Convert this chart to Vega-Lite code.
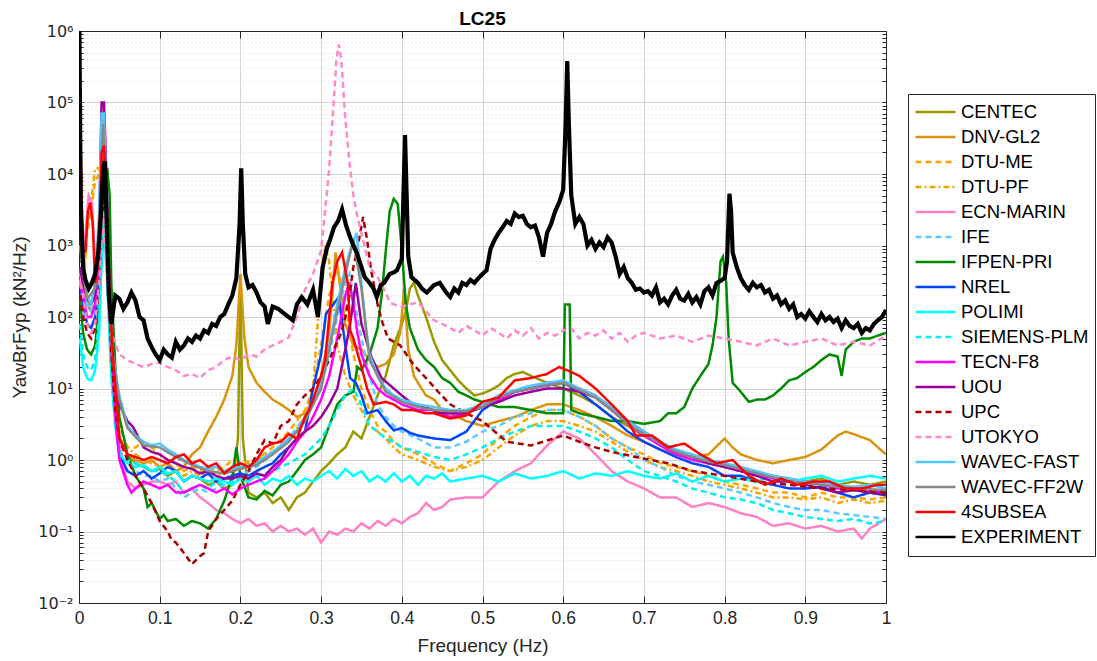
{
"$schema": "https://vega.github.io/schema/vega-lite/v6.json",
"width": 807, "height": 572,
"autosize": {"type": "none"},
"padding": {"left": 79, "top": 31, "right": 211, "bottom": 58},
"background": "white",
"title": {"text": "LC25", "fontSize": 19, "fontWeight": "bold", "font": "Liberation Sans", "color": "black", "offset": -6, "anchor": "middle"},
"config": {
  "view": {"stroke": null},
  "axis": {"labelFont": "Liberation Sans", "titleFont": "Liberation Sans", "labelColor": "#262626", "titleColor": "#262626", "domainColor": "#262626", "tickColor": "#262626", "titleFontWeight": "normal"},
  "legend": {"labelFont": "Liberation Sans", "labelFontSize": 18.5, "labelColor": "black", "symbolType": "stroke", "symbolSize": 1600, "symbolStrokeWidth": 2.5, "clipHeight": 24.2, "rowPadding": 0, "labelOffset": 4, "padding": 6, "strokeColor": "#262626", "fillColor": "white", "labelLimit": 300, "cornerRadius": 0}
},
"data": {"values": [
{"s":"CENTEC","f":0.001,"v":200000},{"s":"CENTEC","f":0.005,"v":200},{"s":"CENTEC","f":0.01,"v":150},{"s":"CENTEC","f":0.015,"v":120},{"s":"CENTEC","f":0.02,"v":150},{"s":"CENTEC","f":0.025,"v":400},{"s":"CENTEC","f":0.03,"v":8000},{"s":"CENTEC","f":0.035,"v":2000},{"s":"CENTEC","f":0.04,"v":30},{"s":"CENTEC","f":0.045,"v":5},{"s":"CENTEC","f":0.05,"v":2},{"s":"CENTEC","f":0.06,"v":1.2},{"s":"CENTEC","f":0.07,"v":0.9},{"s":"CENTEC","f":0.08,"v":0.8},{"s":"CENTEC","f":0.09,"v":0.7},{"s":"CENTEC","f":0.1,"v":0.75},{"s":"CENTEC","f":0.11,"v":0.6},{"s":"CENTEC","f":0.12,"v":0.7},{"s":"CENTEC","f":0.13,"v":0.5},{"s":"CENTEC","f":0.14,"v":0.6},{"s":"CENTEC","f":0.15,"v":0.55},{"s":"CENTEC","f":0.16,"v":0.45},{"s":"CENTEC","f":0.17,"v":0.5},{"s":"CENTEC","f":0.18,"v":0.4},{"s":"CENTEC","f":0.19,"v":0.45},{"s":"CENTEC","f":0.197,"v":2},{"s":"CENTEC","f":0.2,"v":300},{"s":"CENTEC","f":0.203,"v":2},{"s":"CENTEC","f":0.21,"v":0.35},{"s":"CENTEC","f":0.22,"v":0.3},{"s":"CENTEC","f":0.23,"v":0.35},{"s":"CENTEC","f":0.24,"v":0.25},{"s":"CENTEC","f":0.25,"v":0.3},{"s":"CENTEC","f":0.26,"v":0.2},{"s":"CENTEC","f":0.27,"v":0.3},{"s":"CENTEC","f":0.28,"v":0.35},{"s":"CENTEC","f":0.29,"v":0.5},{"s":"CENTEC","f":0.3,"v":0.7},{"s":"CENTEC","f":0.31,"v":0.9},{"s":"CENTEC","f":0.32,"v":1.2},{"s":"CENTEC","f":0.33,"v":1.5},{"s":"CENTEC","f":0.34,"v":2.5},{"s":"CENTEC","f":0.35,"v":2},{"s":"CENTEC","f":0.36,"v":4},{"s":"CENTEC","f":0.37,"v":8},{"s":"CENTEC","f":0.38,"v":15},{"s":"CENTEC","f":0.39,"v":40},{"s":"CENTEC","f":0.4,"v":80},{"s":"CENTEC","f":0.405,"v":120},{"s":"CENTEC","f":0.41,"v":250},{"s":"CENTEC","f":0.415,"v":300},{"s":"CENTEC","f":0.42,"v":200},{"s":"CENTEC","f":0.43,"v":100},{"s":"CENTEC","f":0.44,"v":45},{"s":"CENTEC","f":0.45,"v":25},{"s":"CENTEC","f":0.46,"v":18},{"s":"CENTEC","f":0.47,"v":13},{"s":"CENTEC","f":0.48,"v":10},{"s":"CENTEC","f":0.49,"v":8},{"s":"CENTEC","f":0.5,"v":8.5},{"s":"CENTEC","f":0.51,"v":9.5},{"s":"CENTEC","f":0.52,"v":11},{"s":"CENTEC","f":0.53,"v":14},{"s":"CENTEC","f":0.54,"v":16},{"s":"CENTEC","f":0.55,"v":17},{"s":"CENTEC","f":0.56,"v":15},{"s":"CENTEC","f":0.58,"v":12},{"s":"CENTEC","f":0.6,"v":10},{"s":"CENTEC","f":0.62,"v":8},{"s":"CENTEC","f":0.64,"v":6},{"s":"CENTEC","f":0.66,"v":4},{"s":"CENTEC","f":0.68,"v":3},{"s":"CENTEC","f":0.7,"v":2.2},{"s":"CENTEC","f":0.72,"v":1.8},{"s":"CENTEC","f":0.74,"v":1.3},{"s":"CENTEC","f":0.76,"v":1.1},{"s":"CENTEC","f":0.78,"v":0.9},{"s":"CENTEC","f":0.8,"v":0.8},{"s":"CENTEC","f":0.82,"v":0.7},{"s":"CENTEC","f":0.84,"v":0.65},{"s":"CENTEC","f":0.86,"v":0.6},{"s":"CENTEC","f":0.88,"v":0.55},{"s":"CENTEC","f":0.9,"v":0.5},{"s":"CENTEC","f":0.92,"v":0.55},{"s":"CENTEC","f":0.94,"v":0.45},{"s":"CENTEC","f":0.96,"v":0.5},{"s":"CENTEC","f":0.98,"v":0.45},{"s":"CENTEC","f":1,"v":0.5},
{"s":"DNV-GL2","f":0.001,"v":500},{"s":"DNV-GL2","f":0.005,"v":200},{"s":"DNV-GL2","f":0.01,"v":150},{"s":"DNV-GL2","f":0.015,"v":150},{"s":"DNV-GL2","f":0.02,"v":300},{"s":"DNV-GL2","f":0.025,"v":1500},{"s":"DNV-GL2","f":0.03,"v":8000},{"s":"DNV-GL2","f":0.035,"v":1500},{"s":"DNV-GL2","f":0.04,"v":40},{"s":"DNV-GL2","f":0.045,"v":6},{"s":"DNV-GL2","f":0.05,"v":2},{"s":"DNV-GL2","f":0.06,"v":1.2},{"s":"DNV-GL2","f":0.07,"v":1},{"s":"DNV-GL2","f":0.08,"v":0.9},{"s":"DNV-GL2","f":0.09,"v":1},{"s":"DNV-GL2","f":0.1,"v":0.8},{"s":"DNV-GL2","f":0.11,"v":0.9},{"s":"DNV-GL2","f":0.12,"v":0.7},{"s":"DNV-GL2","f":0.13,"v":0.8},{"s":"DNV-GL2","f":0.14,"v":1.2},{"s":"DNV-GL2","f":0.15,"v":1.5},{"s":"DNV-GL2","f":0.16,"v":2.5},{"s":"DNV-GL2","f":0.17,"v":4},{"s":"DNV-GL2","f":0.18,"v":7},{"s":"DNV-GL2","f":0.19,"v":15},{"s":"DNV-GL2","f":0.195,"v":40},{"s":"DNV-GL2","f":0.2,"v":400},{"s":"DNV-GL2","f":0.205,"v":50},{"s":"DNV-GL2","f":0.21,"v":20},{"s":"DNV-GL2","f":0.22,"v":12},{"s":"DNV-GL2","f":0.23,"v":9},{"s":"DNV-GL2","f":0.24,"v":7},{"s":"DNV-GL2","f":0.25,"v":6},{"s":"DNV-GL2","f":0.26,"v":5},{"s":"DNV-GL2","f":0.27,"v":4},{"s":"DNV-GL2","f":0.28,"v":4.5},{"s":"DNV-GL2","f":0.29,"v":6},{"s":"DNV-GL2","f":0.3,"v":15},{"s":"DNV-GL2","f":0.31,"v":60},{"s":"DNV-GL2","f":0.318,"v":800},{"s":"DNV-GL2","f":0.325,"v":200},{"s":"DNV-GL2","f":0.33,"v":80},{"s":"DNV-GL2","f":0.34,"v":40},{"s":"DNV-GL2","f":0.35,"v":35},{"s":"DNV-GL2","f":0.36,"v":25},{"s":"DNV-GL2","f":0.37,"v":20},{"s":"DNV-GL2","f":0.38,"v":22},{"s":"DNV-GL2","f":0.39,"v":30},{"s":"DNV-GL2","f":0.398,"v":60},{"s":"DNV-GL2","f":0.403,"v":250},{"s":"DNV-GL2","f":0.408,"v":35},{"s":"DNV-GL2","f":0.415,"v":15},{"s":"DNV-GL2","f":0.42,"v":12},{"s":"DNV-GL2","f":0.43,"v":8},{"s":"DNV-GL2","f":0.44,"v":7},{"s":"DNV-GL2","f":0.45,"v":5},{"s":"DNV-GL2","f":0.46,"v":4.5},{"s":"DNV-GL2","f":0.48,"v":3.5},{"s":"DNV-GL2","f":0.5,"v":3},{"s":"DNV-GL2","f":0.52,"v":3.5},{"s":"DNV-GL2","f":0.54,"v":4},{"s":"DNV-GL2","f":0.56,"v":5},{"s":"DNV-GL2","f":0.58,"v":6},{"s":"DNV-GL2","f":0.6,"v":6},{"s":"DNV-GL2","f":0.62,"v":5},{"s":"DNV-GL2","f":0.64,"v":4},{"s":"DNV-GL2","f":0.66,"v":3},{"s":"DNV-GL2","f":0.68,"v":2.2},{"s":"DNV-GL2","f":0.7,"v":1.8},{"s":"DNV-GL2","f":0.72,"v":1.4},{"s":"DNV-GL2","f":0.74,"v":1.2},{"s":"DNV-GL2","f":0.76,"v":1.1},{"s":"DNV-GL2","f":0.78,"v":1.2},{"s":"DNV-GL2","f":0.8,"v":2},{"s":"DNV-GL2","f":0.81,"v":1.5},{"s":"DNV-GL2","f":0.82,"v":1.2},{"s":"DNV-GL2","f":0.84,"v":1},{"s":"DNV-GL2","f":0.86,"v":0.9},{"s":"DNV-GL2","f":0.88,"v":1},{"s":"DNV-GL2","f":0.9,"v":1.1},{"s":"DNV-GL2","f":0.92,"v":1.4},{"s":"DNV-GL2","f":0.94,"v":2.2},{"s":"DNV-GL2","f":0.95,"v":2.5},{"s":"DNV-GL2","f":0.96,"v":2.3},{"s":"DNV-GL2","f":0.98,"v":1.9},{"s":"DNV-GL2","f":0.99,"v":1.5},{"s":"DNV-GL2","f":1,"v":1.2},
{"s":"DTU-ME","f":0.001,"v":300},{"s":"DTU-ME","f":0.005,"v":200},{"s":"DTU-ME","f":0.01,"v":1500},{"s":"DTU-ME","f":0.015,"v":3000},{"s":"DTU-ME","f":0.02,"v":8000},{"s":"DTU-ME","f":0.025,"v":10000},{"s":"DTU-ME","f":0.03,"v":5000},{"s":"DTU-ME","f":0.035,"v":500},{"s":"DTU-ME","f":0.04,"v":20},{"s":"DTU-ME","f":0.045,"v":5},{"s":"DTU-ME","f":0.05,"v":2},{"s":"DTU-ME","f":0.06,"v":1.5},{"s":"DTU-ME","f":0.07,"v":1.5},{"s":"DTU-ME","f":0.08,"v":1.8},{"s":"DTU-ME","f":0.09,"v":1.5},{"s":"DTU-ME","f":0.1,"v":1.2},{"s":"DTU-ME","f":0.11,"v":1},{"s":"DTU-ME","f":0.12,"v":0.9},{"s":"DTU-ME","f":0.13,"v":0.7},{"s":"DTU-ME","f":0.14,"v":0.8},{"s":"DTU-ME","f":0.15,"v":0.7},{"s":"DTU-ME","f":0.16,"v":0.8},{"s":"DTU-ME","f":0.17,"v":0.7},{"s":"DTU-ME","f":0.18,"v":0.8},{"s":"DTU-ME","f":0.19,"v":1},{"s":"DTU-ME","f":0.2,"v":0.9},{"s":"DTU-ME","f":0.22,"v":1},{"s":"DTU-ME","f":0.24,"v":1.5},{"s":"DTU-ME","f":0.26,"v":2.5},{"s":"DTU-ME","f":0.28,"v":5},{"s":"DTU-ME","f":0.29,"v":10},{"s":"DTU-ME","f":0.3,"v":40},{"s":"DTU-ME","f":0.31,"v":200},{"s":"DTU-ME","f":0.32,"v":500},{"s":"DTU-ME","f":0.33,"v":150},{"s":"DTU-ME","f":0.34,"v":30},{"s":"DTU-ME","f":0.35,"v":10},{"s":"DTU-ME","f":0.36,"v":5},{"s":"DTU-ME","f":0.37,"v":3},{"s":"DTU-ME","f":0.38,"v":2.5},{"s":"DTU-ME","f":0.39,"v":1.8},{"s":"DTU-ME","f":0.4,"v":1.5},{"s":"DTU-ME","f":0.42,"v":1.2},{"s":"DTU-ME","f":0.44,"v":0.9},{"s":"DTU-ME","f":0.46,"v":0.7},{"s":"DTU-ME","f":0.48,"v":0.9},{"s":"DTU-ME","f":0.5,"v":1.2},{"s":"DTU-ME","f":0.52,"v":2},{"s":"DTU-ME","f":0.54,"v":3},{"s":"DTU-ME","f":0.56,"v":4},{"s":"DTU-ME","f":0.58,"v":5},{"s":"DTU-ME","f":0.6,"v":5},{"s":"DTU-ME","f":0.62,"v":4},{"s":"DTU-ME","f":0.64,"v":3},{"s":"DTU-ME","f":0.66,"v":2},{"s":"DTU-ME","f":0.68,"v":1.5},{"s":"DTU-ME","f":0.7,"v":1.2},{"s":"DTU-ME","f":0.72,"v":0.9},{"s":"DTU-ME","f":0.74,"v":0.8},{"s":"DTU-ME","f":0.76,"v":0.7},{"s":"DTU-ME","f":0.78,"v":0.6},{"s":"DTU-ME","f":0.8,"v":0.5},{"s":"DTU-ME","f":0.82,"v":0.45},{"s":"DTU-ME","f":0.84,"v":0.4},{"s":"DTU-ME","f":0.86,"v":0.35},{"s":"DTU-ME","f":0.88,"v":0.35},{"s":"DTU-ME","f":0.9,"v":0.3},{"s":"DTU-ME","f":0.92,"v":0.35},{"s":"DTU-ME","f":0.94,"v":0.3},{"s":"DTU-ME","f":0.96,"v":0.3},{"s":"DTU-ME","f":0.98,"v":0.28},{"s":"DTU-ME","f":1,"v":0.3},
{"s":"DTU-PF","f":0.001,"v":400},{"s":"DTU-PF","f":0.005,"v":300},{"s":"DTU-PF","f":0.01,"v":2000},{"s":"DTU-PF","f":0.015,"v":4000},{"s":"DTU-PF","f":0.02,"v":12000},{"s":"DTU-PF","f":0.025,"v":12000},{"s":"DTU-PF","f":0.03,"v":6000},{"s":"DTU-PF","f":0.035,"v":1000},{"s":"DTU-PF","f":0.04,"v":50},{"s":"DTU-PF","f":0.045,"v":8},{"s":"DTU-PF","f":0.05,"v":3},{"s":"DTU-PF","f":0.06,"v":1.5},{"s":"DTU-PF","f":0.07,"v":1.2},{"s":"DTU-PF","f":0.08,"v":1},{"s":"DTU-PF","f":0.09,"v":0.9},{"s":"DTU-PF","f":0.1,"v":0.8},{"s":"DTU-PF","f":0.11,"v":0.9},{"s":"DTU-PF","f":0.12,"v":0.7},{"s":"DTU-PF","f":0.13,"v":0.6},{"s":"DTU-PF","f":0.14,"v":0.7},{"s":"DTU-PF","f":0.15,"v":0.6},{"s":"DTU-PF","f":0.16,"v":0.7},{"s":"DTU-PF","f":0.17,"v":0.6},{"s":"DTU-PF","f":0.18,"v":0.7},{"s":"DTU-PF","f":0.19,"v":0.8},{"s":"DTU-PF","f":0.2,"v":0.8},{"s":"DTU-PF","f":0.22,"v":1},{"s":"DTU-PF","f":0.24,"v":1.3},{"s":"DTU-PF","f":0.26,"v":2},{"s":"DTU-PF","f":0.28,"v":4},{"s":"DTU-PF","f":0.29,"v":10},{"s":"DTU-PF","f":0.295,"v":60},{"s":"DTU-PF","f":0.3,"v":400},{"s":"DTU-PF","f":0.305,"v":1000},{"s":"DTU-PF","f":0.31,"v":600},{"s":"DTU-PF","f":0.315,"v":150},{"s":"DTU-PF","f":0.32,"v":40},{"s":"DTU-PF","f":0.33,"v":15},{"s":"DTU-PF","f":0.34,"v":8},{"s":"DTU-PF","f":0.35,"v":5},{"s":"DTU-PF","f":0.36,"v":3},{"s":"DTU-PF","f":0.37,"v":2.5},{"s":"DTU-PF","f":0.38,"v":2},{"s":"DTU-PF","f":0.39,"v":1.5},{"s":"DTU-PF","f":0.4,"v":1.2},{"s":"DTU-PF","f":0.42,"v":1},{"s":"DTU-PF","f":0.44,"v":0.8},{"s":"DTU-PF","f":0.46,"v":0.7},{"s":"DTU-PF","f":0.48,"v":0.8},{"s":"DTU-PF","f":0.5,"v":1},{"s":"DTU-PF","f":0.52,"v":1.5},{"s":"DTU-PF","f":0.54,"v":2.2},{"s":"DTU-PF","f":0.56,"v":3},{"s":"DTU-PF","f":0.58,"v":3.5},{"s":"DTU-PF","f":0.6,"v":3.5},{"s":"DTU-PF","f":0.62,"v":3},{"s":"DTU-PF","f":0.64,"v":2.5},{"s":"DTU-PF","f":0.66,"v":1.8},{"s":"DTU-PF","f":0.68,"v":1.3},{"s":"DTU-PF","f":0.7,"v":1},{"s":"DTU-PF","f":0.72,"v":0.8},{"s":"DTU-PF","f":0.74,"v":0.7},{"s":"DTU-PF","f":0.76,"v":0.6},{"s":"DTU-PF","f":0.78,"v":0.5},{"s":"DTU-PF","f":0.8,"v":0.45},{"s":"DTU-PF","f":0.82,"v":0.4},{"s":"DTU-PF","f":0.84,"v":0.35},{"s":"DTU-PF","f":0.86,"v":0.3},{"s":"DTU-PF","f":0.88,"v":0.3},{"s":"DTU-PF","f":0.9,"v":0.28},{"s":"DTU-PF","f":0.92,"v":0.3},{"s":"DTU-PF","f":0.94,"v":0.25},{"s":"DTU-PF","f":0.96,"v":0.28},{"s":"DTU-PF","f":0.98,"v":0.25},{"s":"DTU-PF","f":1,"v":0.27},
{"s":"ECN-MARIN","f":0.001,"v":300},{"s":"ECN-MARIN","f":0.004,"v":400},{"s":"ECN-MARIN","f":0.008,"v":1500},{"s":"ECN-MARIN","f":0.012,"v":5000},{"s":"ECN-MARIN","f":0.016,"v":4000},{"s":"ECN-MARIN","f":0.02,"v":600},{"s":"ECN-MARIN","f":0.025,"v":1000},{"s":"ECN-MARIN","f":0.03,"v":30000},{"s":"ECN-MARIN","f":0.035,"v":2000},{"s":"ECN-MARIN","f":0.04,"v":60},{"s":"ECN-MARIN","f":0.045,"v":8},{"s":"ECN-MARIN","f":0.05,"v":2},{"s":"ECN-MARIN","f":0.055,"v":0.8},{"s":"ECN-MARIN","f":0.06,"v":0.5},{"s":"ECN-MARIN","f":0.07,"v":0.4},{"s":"ECN-MARIN","f":0.08,"v":0.45},{"s":"ECN-MARIN","f":0.09,"v":0.5},{"s":"ECN-MARIN","f":0.1,"v":0.5},{"s":"ECN-MARIN","f":0.11,"v":0.45},{"s":"ECN-MARIN","f":0.12,"v":0.5},{"s":"ECN-MARIN","f":0.13,"v":0.35},{"s":"ECN-MARIN","f":0.14,"v":0.4},{"s":"ECN-MARIN","f":0.15,"v":0.3},{"s":"ECN-MARIN","f":0.16,"v":0.25},{"s":"ECN-MARIN","f":0.17,"v":0.2},{"s":"ECN-MARIN","f":0.18,"v":0.18},{"s":"ECN-MARIN","f":0.19,"v":0.15},{"s":"ECN-MARIN","f":0.2,"v":0.13},{"s":"ECN-MARIN","f":0.21,"v":0.15},{"s":"ECN-MARIN","f":0.22,"v":0.12},{"s":"ECN-MARIN","f":0.23,"v":0.13},{"s":"ECN-MARIN","f":0.24,"v":0.1},{"s":"ECN-MARIN","f":0.25,"v":0.12},{"s":"ECN-MARIN","f":0.26,"v":0.1},{"s":"ECN-MARIN","f":0.27,"v":0.11},{"s":"ECN-MARIN","f":0.28,"v":0.09},{"s":"ECN-MARIN","f":0.29,"v":0.11},{"s":"ECN-MARIN","f":0.3,"v":0.07},{"s":"ECN-MARIN","f":0.31,"v":0.1},{"s":"ECN-MARIN","f":0.32,"v":0.09},{"s":"ECN-MARIN","f":0.33,"v":0.11},{"s":"ECN-MARIN","f":0.34,"v":0.1},{"s":"ECN-MARIN","f":0.35,"v":0.13},{"s":"ECN-MARIN","f":0.36,"v":0.11},{"s":"ECN-MARIN","f":0.37,"v":0.14},{"s":"ECN-MARIN","f":0.38,"v":0.12},{"s":"ECN-MARIN","f":0.39,"v":0.15},{"s":"ECN-MARIN","f":0.4,"v":0.13},{"s":"ECN-MARIN","f":0.41,"v":0.16},{"s":"ECN-MARIN","f":0.42,"v":0.18},{"s":"ECN-MARIN","f":0.43,"v":0.25},{"s":"ECN-MARIN","f":0.44,"v":0.2},{"s":"ECN-MARIN","f":0.45,"v":0.22},{"s":"ECN-MARIN","f":0.46,"v":0.28},{"s":"ECN-MARIN","f":0.48,"v":0.3},{"s":"ECN-MARIN","f":0.5,"v":0.3},{"s":"ECN-MARIN","f":0.52,"v":0.5},{"s":"ECN-MARIN","f":0.54,"v":0.7},{"s":"ECN-MARIN","f":0.56,"v":0.9},{"s":"ECN-MARIN","f":0.58,"v":1.6},{"s":"ECN-MARIN","f":0.6,"v":2.5},{"s":"ECN-MARIN","f":0.62,"v":2},{"s":"ECN-MARIN","f":0.64,"v":1.2},{"s":"ECN-MARIN","f":0.66,"v":0.7},{"s":"ECN-MARIN","f":0.68,"v":0.5},{"s":"ECN-MARIN","f":0.7,"v":0.4},{"s":"ECN-MARIN","f":0.72,"v":0.3},{"s":"ECN-MARIN","f":0.74,"v":0.3},{"s":"ECN-MARIN","f":0.76,"v":0.22},{"s":"ECN-MARIN","f":0.78,"v":0.25},{"s":"ECN-MARIN","f":0.8,"v":0.22},{"s":"ECN-MARIN","f":0.82,"v":0.18},{"s":"ECN-MARIN","f":0.84,"v":0.16},{"s":"ECN-MARIN","f":0.86,"v":0.12},{"s":"ECN-MARIN","f":0.88,"v":0.13},{"s":"ECN-MARIN","f":0.9,"v":0.11},{"s":"ECN-MARIN","f":0.92,"v":0.12},{"s":"ECN-MARIN","f":0.94,"v":0.1},{"s":"ECN-MARIN","f":0.96,"v":0.11},{"s":"ECN-MARIN","f":0.97,"v":0.08},{"s":"ECN-MARIN","f":0.98,"v":0.11},{"s":"ECN-MARIN","f":1,"v":0.15},
{"s":"IFE","f":0.001,"v":300},{"s":"IFE","f":0.005,"v":200},{"s":"IFE","f":0.01,"v":150},{"s":"IFE","f":0.015,"v":120},{"s":"IFE","f":0.02,"v":200},{"s":"IFE","f":0.025,"v":1000},{"s":"IFE","f":0.03,"v":30000},{"s":"IFE","f":0.035,"v":3000},{"s":"IFE","f":0.04,"v":50},{"s":"IFE","f":0.045,"v":6},{"s":"IFE","f":0.05,"v":2},{"s":"IFE","f":0.06,"v":1},{"s":"IFE","f":0.07,"v":0.7},{"s":"IFE","f":0.08,"v":0.6},{"s":"IFE","f":0.09,"v":0.6},{"s":"IFE","f":0.1,"v":0.5},{"s":"IFE","f":0.11,"v":0.55},{"s":"IFE","f":0.12,"v":0.4},{"s":"IFE","f":0.13,"v":0.3},{"s":"IFE","f":0.14,"v":0.35},{"s":"IFE","f":0.15,"v":0.4},{"s":"IFE","f":0.16,"v":0.35},{"s":"IFE","f":0.17,"v":0.4},{"s":"IFE","f":0.18,"v":0.45},{"s":"IFE","f":0.19,"v":0.5},{"s":"IFE","f":0.2,"v":0.6},{"s":"IFE","f":0.22,"v":0.8},{"s":"IFE","f":0.24,"v":1.2},{"s":"IFE","f":0.26,"v":2},{"s":"IFE","f":0.28,"v":4},{"s":"IFE","f":0.3,"v":10},{"s":"IFE","f":0.31,"v":30},{"s":"IFE","f":0.32,"v":100},{"s":"IFE","f":0.33,"v":300},{"s":"IFE","f":0.335,"v":400},{"s":"IFE","f":0.34,"v":200},{"s":"IFE","f":0.35,"v":50},{"s":"IFE","f":0.36,"v":15},{"s":"IFE","f":0.37,"v":6},{"s":"IFE","f":0.38,"v":4},{"s":"IFE","f":0.39,"v":3},{"s":"IFE","f":0.4,"v":2.5},{"s":"IFE","f":0.42,"v":2},{"s":"IFE","f":0.44,"v":1.5},{"s":"IFE","f":0.46,"v":1.5},{"s":"IFE","f":0.48,"v":1.8},{"s":"IFE","f":0.5,"v":2.5},{"s":"IFE","f":0.52,"v":3},{"s":"IFE","f":0.54,"v":4},{"s":"IFE","f":0.56,"v":4.5},{"s":"IFE","f":0.58,"v":5},{"s":"IFE","f":0.6,"v":5},{"s":"IFE","f":0.62,"v":4},{"s":"IFE","f":0.64,"v":3},{"s":"IFE","f":0.66,"v":2},{"s":"IFE","f":0.68,"v":1.5},{"s":"IFE","f":0.7,"v":1},{"s":"IFE","f":0.72,"v":0.8},{"s":"IFE","f":0.74,"v":0.6},{"s":"IFE","f":0.76,"v":0.5},{"s":"IFE","f":0.78,"v":0.45},{"s":"IFE","f":0.8,"v":0.4},{"s":"IFE","f":0.82,"v":0.35},{"s":"IFE","f":0.84,"v":0.3},{"s":"IFE","f":0.86,"v":0.25},{"s":"IFE","f":0.88,"v":0.22},{"s":"IFE","f":0.9,"v":0.2},{"s":"IFE","f":0.92,"v":0.2},{"s":"IFE","f":0.94,"v":0.18},{"s":"IFE","f":0.96,"v":0.17},{"s":"IFE","f":0.98,"v":0.16},{"s":"IFE","f":1,"v":0.15},
{"s":"IFPEN-PRI","f":0.001,"v":200},{"s":"IFPEN-PRI","f":0.005,"v":60},{"s":"IFPEN-PRI","f":0.01,"v":35},{"s":"IFPEN-PRI","f":0.015,"v":30},{"s":"IFPEN-PRI","f":0.02,"v":40},{"s":"IFPEN-PRI","f":0.025,"v":150},{"s":"IFPEN-PRI","f":0.03,"v":1500},{"s":"IFPEN-PRI","f":0.035,"v":12000},{"s":"IFPEN-PRI","f":0.038,"v":5000},{"s":"IFPEN-PRI","f":0.04,"v":300},{"s":"IFPEN-PRI","f":0.045,"v":20},{"s":"IFPEN-PRI","f":0.05,"v":4},{"s":"IFPEN-PRI","f":0.06,"v":1.2},{"s":"IFPEN-PRI","f":0.07,"v":0.6},{"s":"IFPEN-PRI","f":0.08,"v":0.4},{"s":"IFPEN-PRI","f":0.085,"v":0.22},{"s":"IFPEN-PRI","f":0.09,"v":0.25},{"s":"IFPEN-PRI","f":0.1,"v":0.15},{"s":"IFPEN-PRI","f":0.105,"v":0.17},{"s":"IFPEN-PRI","f":0.11,"v":0.14},{"s":"IFPEN-PRI","f":0.12,"v":0.15},{"s":"IFPEN-PRI","f":0.13,"v":0.12},{"s":"IFPEN-PRI","f":0.14,"v":0.14},{"s":"IFPEN-PRI","f":0.15,"v":0.13},{"s":"IFPEN-PRI","f":0.16,"v":0.11},{"s":"IFPEN-PRI","f":0.17,"v":0.15},{"s":"IFPEN-PRI","f":0.18,"v":0.27},{"s":"IFPEN-PRI","f":0.19,"v":0.6},{"s":"IFPEN-PRI","f":0.195,"v":1.5},{"s":"IFPEN-PRI","f":0.2,"v":0.6},{"s":"IFPEN-PRI","f":0.21,"v":0.3},{"s":"IFPEN-PRI","f":0.22,"v":0.28},{"s":"IFPEN-PRI","f":0.23,"v":0.37},{"s":"IFPEN-PRI","f":0.24,"v":0.32},{"s":"IFPEN-PRI","f":0.25,"v":0.45},{"s":"IFPEN-PRI","f":0.26,"v":0.5},{"s":"IFPEN-PRI","f":0.27,"v":0.7},{"s":"IFPEN-PRI","f":0.28,"v":1},{"s":"IFPEN-PRI","f":0.29,"v":1.2},{"s":"IFPEN-PRI","f":0.3,"v":1.5},{"s":"IFPEN-PRI","f":0.31,"v":3},{"s":"IFPEN-PRI","f":0.32,"v":6},{"s":"IFPEN-PRI","f":0.33,"v":8},{"s":"IFPEN-PRI","f":0.34,"v":9},{"s":"IFPEN-PRI","f":0.345,"v":20},{"s":"IFPEN-PRI","f":0.35,"v":18},{"s":"IFPEN-PRI","f":0.36,"v":30},{"s":"IFPEN-PRI","f":0.37,"v":70},{"s":"IFPEN-PRI","f":0.375,"v":200},{"s":"IFPEN-PRI","f":0.38,"v":800},{"s":"IFPEN-PRI","f":0.385,"v":3000},{"s":"IFPEN-PRI","f":0.39,"v":4500},{"s":"IFPEN-PRI","f":0.395,"v":3800},{"s":"IFPEN-PRI","f":0.4,"v":900},{"s":"IFPEN-PRI","f":0.405,"v":150},{"s":"IFPEN-PRI","f":0.41,"v":70},{"s":"IFPEN-PRI","f":0.42,"v":35},{"s":"IFPEN-PRI","f":0.43,"v":25},{"s":"IFPEN-PRI","f":0.44,"v":20},{"s":"IFPEN-PRI","f":0.45,"v":14},{"s":"IFPEN-PRI","f":0.46,"v":12},{"s":"IFPEN-PRI","f":0.47,"v":9},{"s":"IFPEN-PRI","f":0.48,"v":8},{"s":"IFPEN-PRI","f":0.49,"v":7},{"s":"IFPEN-PRI","f":0.5,"v":6.5},{"s":"IFPEN-PRI","f":0.52,"v":5.5},{"s":"IFPEN-PRI","f":0.54,"v":5.5},{"s":"IFPEN-PRI","f":0.56,"v":5},{"s":"IFPEN-PRI","f":0.58,"v":4.5},{"s":"IFPEN-PRI","f":0.6,"v":4.5},{"s":"IFPEN-PRI","f":0.602,"v":150},{"s":"IFPEN-PRI","f":0.608,"v":150},{"s":"IFPEN-PRI","f":0.61,"v":5},{"s":"IFPEN-PRI","f":0.62,"v":4.5},{"s":"IFPEN-PRI","f":0.64,"v":4},{"s":"IFPEN-PRI","f":0.66,"v":3.5},{"s":"IFPEN-PRI","f":0.68,"v":3.5},{"s":"IFPEN-PRI","f":0.7,"v":3.2},{"s":"IFPEN-PRI","f":0.72,"v":3.5},{"s":"IFPEN-PRI","f":0.73,"v":4.5},{"s":"IFPEN-PRI","f":0.74,"v":4.5},{"s":"IFPEN-PRI","f":0.75,"v":5.5},{"s":"IFPEN-PRI","f":0.76,"v":10},{"s":"IFPEN-PRI","f":0.77,"v":15},{"s":"IFPEN-PRI","f":0.78,"v":22},{"s":"IFPEN-PRI","f":0.785,"v":40},{"s":"IFPEN-PRI","f":0.79,"v":100},{"s":"IFPEN-PRI","f":0.795,"v":600},{"s":"IFPEN-PRI","f":0.798,"v":700},{"s":"IFPEN-PRI","f":0.802,"v":300},{"s":"IFPEN-PRI","f":0.805,"v":50},{"s":"IFPEN-PRI","f":0.81,"v":12},{"s":"IFPEN-PRI","f":0.82,"v":9},{"s":"IFPEN-PRI","f":0.83,"v":6.5},{"s":"IFPEN-PRI","f":0.84,"v":7},{"s":"IFPEN-PRI","f":0.85,"v":7},{"s":"IFPEN-PRI","f":0.86,"v":8},{"s":"IFPEN-PRI","f":0.87,"v":10},{"s":"IFPEN-PRI","f":0.88,"v":13},{"s":"IFPEN-PRI","f":0.89,"v":14},{"s":"IFPEN-PRI","f":0.9,"v":17},{"s":"IFPEN-PRI","f":0.91,"v":20},{"s":"IFPEN-PRI","f":0.92,"v":25},{"s":"IFPEN-PRI","f":0.93,"v":30},{"s":"IFPEN-PRI","f":0.94,"v":28},{"s":"IFPEN-PRI","f":0.945,"v":15},{"s":"IFPEN-PRI","f":0.95,"v":35},{"s":"IFPEN-PRI","f":0.96,"v":45},{"s":"IFPEN-PRI","f":0.97,"v":50},{"s":"IFPEN-PRI","f":0.98,"v":50},{"s":"IFPEN-PRI","f":0.99,"v":55},{"s":"IFPEN-PRI","f":1,"v":60},
{"s":"NREL","f":0.001,"v":300},{"s":"NREL","f":0.005,"v":150},{"s":"NREL","f":0.01,"v":80},{"s":"NREL","f":0.015,"v":70},{"s":"NREL","f":0.02,"v":100},{"s":"NREL","f":0.025,"v":400},{"s":"NREL","f":0.03,"v":20000},{"s":"NREL","f":0.035,"v":2000},{"s":"NREL","f":0.04,"v":30},{"s":"NREL","f":0.045,"v":4},{"s":"NREL","f":0.05,"v":1.2},{"s":"NREL","f":0.06,"v":0.7},{"s":"NREL","f":0.07,"v":0.6},{"s":"NREL","f":0.08,"v":0.7},{"s":"NREL","f":0.09,"v":0.55},{"s":"NREL","f":0.1,"v":0.65},{"s":"NREL","f":0.11,"v":0.8},{"s":"NREL","f":0.12,"v":0.7},{"s":"NREL","f":0.13,"v":0.5},{"s":"NREL","f":0.14,"v":0.6},{"s":"NREL","f":0.15,"v":0.55},{"s":"NREL","f":0.16,"v":0.65},{"s":"NREL","f":0.17,"v":0.5},{"s":"NREL","f":0.18,"v":0.55},{"s":"NREL","f":0.19,"v":0.6},{"s":"NREL","f":0.2,"v":0.65},{"s":"NREL","f":0.21,"v":0.6},{"s":"NREL","f":0.22,"v":0.7},{"s":"NREL","f":0.23,"v":0.8},{"s":"NREL","f":0.24,"v":0.9},{"s":"NREL","f":0.25,"v":1.2},{"s":"NREL","f":0.26,"v":1.5},{"s":"NREL","f":0.27,"v":2},{"s":"NREL","f":0.28,"v":2.5},{"s":"NREL","f":0.29,"v":10},{"s":"NREL","f":0.3,"v":30},{"s":"NREL","f":0.306,"v":110},{"s":"NREL","f":0.315,"v":150},{"s":"NREL","f":0.322,"v":190},{"s":"NREL","f":0.33,"v":40},{"s":"NREL","f":0.336,"v":14},{"s":"NREL","f":0.343,"v":12},{"s":"NREL","f":0.35,"v":8},{"s":"NREL","f":0.357,"v":4.5},{"s":"NREL","f":0.37,"v":5},{"s":"NREL","f":0.38,"v":3.5},{"s":"NREL","f":0.39,"v":2.6},{"s":"NREL","f":0.4,"v":2.8},{"s":"NREL","f":0.41,"v":2.4},{"s":"NREL","f":0.42,"v":2.2},{"s":"NREL","f":0.44,"v":2},{"s":"NREL","f":0.46,"v":1.9},{"s":"NREL","f":0.48,"v":2.5},{"s":"NREL","f":0.5,"v":5},{"s":"NREL","f":0.52,"v":7},{"s":"NREL","f":0.54,"v":9},{"s":"NREL","f":0.56,"v":10},{"s":"NREL","f":0.58,"v":11},{"s":"NREL","f":0.6,"v":12},{"s":"NREL","f":0.62,"v":9},{"s":"NREL","f":0.64,"v":6},{"s":"NREL","f":0.66,"v":4},{"s":"NREL","f":0.68,"v":2.5},{"s":"NREL","f":0.7,"v":1.8},{"s":"NREL","f":0.72,"v":1.4},{"s":"NREL","f":0.74,"v":1.1},{"s":"NREL","f":0.76,"v":0.9},{"s":"NREL","f":0.78,"v":0.8},{"s":"NREL","f":0.8,"v":0.6},{"s":"NREL","f":0.82,"v":0.6},{"s":"NREL","f":0.84,"v":0.5},{"s":"NREL","f":0.86,"v":0.45},{"s":"NREL","f":0.88,"v":0.4},{"s":"NREL","f":0.9,"v":0.4},{"s":"NREL","f":0.92,"v":0.42},{"s":"NREL","f":0.94,"v":0.35},{"s":"NREL","f":0.96,"v":0.3},{"s":"NREL","f":0.98,"v":0.35},{"s":"NREL","f":1,"v":0.32},
{"s":"POLIMI","f":0.001,"v":50},{"s":"POLIMI","f":0.005,"v":20},{"s":"POLIMI","f":0.01,"v":14},{"s":"POLIMI","f":0.015,"v":13},{"s":"POLIMI","f":0.02,"v":18},{"s":"POLIMI","f":0.025,"v":60},{"s":"POLIMI","f":0.03,"v":3000},{"s":"POLIMI","f":0.035,"v":300},{"s":"POLIMI","f":0.04,"v":15},{"s":"POLIMI","f":0.045,"v":3},{"s":"POLIMI","f":0.05,"v":1.2},{"s":"POLIMI","f":0.06,"v":0.9},{"s":"POLIMI","f":0.07,"v":0.8},{"s":"POLIMI","f":0.08,"v":0.85},{"s":"POLIMI","f":0.09,"v":0.7},{"s":"POLIMI","f":0.1,"v":0.8},{"s":"POLIMI","f":0.11,"v":0.65},{"s":"POLIMI","f":0.12,"v":0.7},{"s":"POLIMI","f":0.13,"v":0.5},{"s":"POLIMI","f":0.14,"v":0.6},{"s":"POLIMI","f":0.15,"v":0.55},{"s":"POLIMI","f":0.16,"v":0.5},{"s":"POLIMI","f":0.17,"v":0.55},{"s":"POLIMI","f":0.18,"v":0.5},{"s":"POLIMI","f":0.19,"v":0.45},{"s":"POLIMI","f":0.2,"v":0.55},{"s":"POLIMI","f":0.21,"v":0.5},{"s":"POLIMI","f":0.22,"v":0.6},{"s":"POLIMI","f":0.23,"v":0.45},{"s":"POLIMI","f":0.24,"v":0.55},{"s":"POLIMI","f":0.25,"v":0.5},{"s":"POLIMI","f":0.26,"v":0.6},{"s":"POLIMI","f":0.27,"v":0.45},{"s":"POLIMI","f":0.28,"v":0.55},{"s":"POLIMI","f":0.29,"v":0.5},{"s":"POLIMI","f":0.3,"v":0.6},{"s":"POLIMI","f":0.31,"v":0.7},{"s":"POLIMI","f":0.32,"v":0.55},{"s":"POLIMI","f":0.33,"v":0.75},{"s":"POLIMI","f":0.34,"v":0.6},{"s":"POLIMI","f":0.35,"v":0.7},{"s":"POLIMI","f":0.36,"v":0.5},{"s":"POLIMI","f":0.37,"v":0.6},{"s":"POLIMI","f":0.38,"v":0.5},{"s":"POLIMI","f":0.39,"v":0.65},{"s":"POLIMI","f":0.4,"v":0.5},{"s":"POLIMI","f":0.41,"v":0.6},{"s":"POLIMI","f":0.42,"v":0.45},{"s":"POLIMI","f":0.43,"v":0.6},{"s":"POLIMI","f":0.44,"v":0.55},{"s":"POLIMI","f":0.45,"v":0.65},{"s":"POLIMI","f":0.46,"v":0.5},{"s":"POLIMI","f":0.48,"v":0.55},{"s":"POLIMI","f":0.5,"v":0.6},{"s":"POLIMI","f":0.52,"v":0.5},{"s":"POLIMI","f":0.54,"v":0.65},{"s":"POLIMI","f":0.56,"v":0.55},{"s":"POLIMI","f":0.58,"v":0.6},{"s":"POLIMI","f":0.6,"v":0.7},{"s":"POLIMI","f":0.62,"v":0.55},{"s":"POLIMI","f":0.64,"v":0.65},{"s":"POLIMI","f":0.66,"v":0.6},{"s":"POLIMI","f":0.68,"v":0.7},{"s":"POLIMI","f":0.7,"v":0.6},{"s":"POLIMI","f":0.72,"v":0.55},{"s":"POLIMI","f":0.74,"v":0.65},{"s":"POLIMI","f":0.76,"v":0.5},{"s":"POLIMI","f":0.78,"v":0.6},{"s":"POLIMI","f":0.8,"v":0.5},{"s":"POLIMI","f":0.82,"v":0.55},{"s":"POLIMI","f":0.84,"v":0.5},{"s":"POLIMI","f":0.86,"v":0.6},{"s":"POLIMI","f":0.88,"v":0.5},{"s":"POLIMI","f":0.9,"v":0.55},{"s":"POLIMI","f":0.92,"v":0.6},{"s":"POLIMI","f":0.94,"v":0.5},{"s":"POLIMI","f":0.96,"v":0.55},{"s":"POLIMI","f":0.98,"v":0.6},{"s":"POLIMI","f":1,"v":0.55},
{"s":"SIEMENS-PLM","f":0.001,"v":80},{"s":"SIEMENS-PLM","f":0.005,"v":30},{"s":"SIEMENS-PLM","f":0.01,"v":20},{"s":"SIEMENS-PLM","f":0.015,"v":18},{"s":"SIEMENS-PLM","f":0.02,"v":25},{"s":"SIEMENS-PLM","f":0.025,"v":100},{"s":"SIEMENS-PLM","f":0.03,"v":5000},{"s":"SIEMENS-PLM","f":0.035,"v":400},{"s":"SIEMENS-PLM","f":0.04,"v":15},{"s":"SIEMENS-PLM","f":0.045,"v":3},{"s":"SIEMENS-PLM","f":0.05,"v":1.3},{"s":"SIEMENS-PLM","f":0.06,"v":1},{"s":"SIEMENS-PLM","f":0.07,"v":0.9},{"s":"SIEMENS-PLM","f":0.08,"v":0.8},{"s":"SIEMENS-PLM","f":0.09,"v":0.7},{"s":"SIEMENS-PLM","f":0.1,"v":0.7},{"s":"SIEMENS-PLM","f":0.11,"v":0.6},{"s":"SIEMENS-PLM","f":0.12,"v":0.5},{"s":"SIEMENS-PLM","f":0.13,"v":0.35},{"s":"SIEMENS-PLM","f":0.14,"v":0.4},{"s":"SIEMENS-PLM","f":0.15,"v":0.45},{"s":"SIEMENS-PLM","f":0.16,"v":0.4},{"s":"SIEMENS-PLM","f":0.17,"v":0.5},{"s":"SIEMENS-PLM","f":0.18,"v":0.45},{"s":"SIEMENS-PLM","f":0.19,"v":0.5},{"s":"SIEMENS-PLM","f":0.2,"v":0.55},{"s":"SIEMENS-PLM","f":0.22,"v":0.6},{"s":"SIEMENS-PLM","f":0.24,"v":0.7},{"s":"SIEMENS-PLM","f":0.26,"v":0.9},{"s":"SIEMENS-PLM","f":0.28,"v":1.2},{"s":"SIEMENS-PLM","f":0.3,"v":2},{"s":"SIEMENS-PLM","f":0.31,"v":3},{"s":"SIEMENS-PLM","f":0.32,"v":5},{"s":"SIEMENS-PLM","f":0.33,"v":8},{"s":"SIEMENS-PLM","f":0.34,"v":10},{"s":"SIEMENS-PLM","f":0.35,"v":6},{"s":"SIEMENS-PLM","f":0.36,"v":3},{"s":"SIEMENS-PLM","f":0.37,"v":2.5},{"s":"SIEMENS-PLM","f":0.38,"v":2},{"s":"SIEMENS-PLM","f":0.39,"v":1.8},{"s":"SIEMENS-PLM","f":0.4,"v":1.5},{"s":"SIEMENS-PLM","f":0.42,"v":1.3},{"s":"SIEMENS-PLM","f":0.44,"v":1.1},{"s":"SIEMENS-PLM","f":0.46,"v":1},{"s":"SIEMENS-PLM","f":0.48,"v":1.2},{"s":"SIEMENS-PLM","f":0.5,"v":1.5},{"s":"SIEMENS-PLM","f":0.52,"v":2},{"s":"SIEMENS-PLM","f":0.54,"v":2.5},{"s":"SIEMENS-PLM","f":0.56,"v":3},{"s":"SIEMENS-PLM","f":0.58,"v":3},{"s":"SIEMENS-PLM","f":0.6,"v":3},{"s":"SIEMENS-PLM","f":0.62,"v":2.5},{"s":"SIEMENS-PLM","f":0.64,"v":2},{"s":"SIEMENS-PLM","f":0.66,"v":1.5},{"s":"SIEMENS-PLM","f":0.68,"v":1},{"s":"SIEMENS-PLM","f":0.7,"v":0.7},{"s":"SIEMENS-PLM","f":0.72,"v":0.6},{"s":"SIEMENS-PLM","f":0.74,"v":0.5},{"s":"SIEMENS-PLM","f":0.76,"v":0.4},{"s":"SIEMENS-PLM","f":0.78,"v":0.35},{"s":"SIEMENS-PLM","f":0.8,"v":0.3},{"s":"SIEMENS-PLM","f":0.82,"v":0.28},{"s":"SIEMENS-PLM","f":0.84,"v":0.25},{"s":"SIEMENS-PLM","f":0.86,"v":0.2},{"s":"SIEMENS-PLM","f":0.88,"v":0.18},{"s":"SIEMENS-PLM","f":0.9,"v":0.16},{"s":"SIEMENS-PLM","f":0.92,"v":0.15},{"s":"SIEMENS-PLM","f":0.94,"v":0.14},{"s":"SIEMENS-PLM","f":0.96,"v":0.15},{"s":"SIEMENS-PLM","f":0.98,"v":0.13},{"s":"SIEMENS-PLM","f":1,"v":0.14},
{"s":"TECN-F8","f":0.001,"v":300},{"s":"TECN-F8","f":0.005,"v":200},{"s":"TECN-F8","f":0.01,"v":100},{"s":"TECN-F8","f":0.015,"v":100},{"s":"TECN-F8","f":0.02,"v":150},{"s":"TECN-F8","f":0.025,"v":600},{"s":"TECN-F8","f":0.03,"v":30000},{"s":"TECN-F8","f":0.035,"v":2000},{"s":"TECN-F8","f":0.04,"v":40},{"s":"TECN-F8","f":0.045,"v":4},{"s":"TECN-F8","f":0.05,"v":1},{"s":"TECN-F8","f":0.06,"v":0.45},{"s":"TECN-F8","f":0.065,"v":0.35},{"s":"TECN-F8","f":0.07,"v":0.4},{"s":"TECN-F8","f":0.08,"v":0.5},{"s":"TECN-F8","f":0.09,"v":0.45},{"s":"TECN-F8","f":0.1,"v":0.4},{"s":"TECN-F8","f":0.11,"v":0.45},{"s":"TECN-F8","f":0.12,"v":0.35},{"s":"TECN-F8","f":0.13,"v":0.35},{"s":"TECN-F8","f":0.14,"v":0.4},{"s":"TECN-F8","f":0.15,"v":0.45},{"s":"TECN-F8","f":0.16,"v":0.4},{"s":"TECN-F8","f":0.17,"v":0.35},{"s":"TECN-F8","f":0.18,"v":0.4},{"s":"TECN-F8","f":0.19,"v":0.33},{"s":"TECN-F8","f":0.2,"v":0.4},{"s":"TECN-F8","f":0.21,"v":0.45},{"s":"TECN-F8","f":0.22,"v":0.5},{"s":"TECN-F8","f":0.23,"v":0.55},{"s":"TECN-F8","f":0.24,"v":0.7},{"s":"TECN-F8","f":0.25,"v":0.9},{"s":"TECN-F8","f":0.26,"v":1.2},{"s":"TECN-F8","f":0.27,"v":1.8},{"s":"TECN-F8","f":0.28,"v":2.5},{"s":"TECN-F8","f":0.29,"v":4},{"s":"TECN-F8","f":0.3,"v":7},{"s":"TECN-F8","f":0.31,"v":15},{"s":"TECN-F8","f":0.32,"v":50},{"s":"TECN-F8","f":0.33,"v":200},{"s":"TECN-F8","f":0.335,"v":300},{"s":"TECN-F8","f":0.34,"v":150},{"s":"TECN-F8","f":0.345,"v":60},{"s":"TECN-F8","f":0.35,"v":30},{"s":"TECN-F8","f":0.36,"v":15},{"s":"TECN-F8","f":0.37,"v":10},{"s":"TECN-F8","f":0.38,"v":8},{"s":"TECN-F8","f":0.39,"v":7},{"s":"TECN-F8","f":0.4,"v":6},{"s":"TECN-F8","f":0.42,"v":5},{"s":"TECN-F8","f":0.44,"v":5},{"s":"TECN-F8","f":0.46,"v":4},{"s":"TECN-F8","f":0.48,"v":4.5},{"s":"TECN-F8","f":0.5,"v":6},{"s":"TECN-F8","f":0.52,"v":7},{"s":"TECN-F8","f":0.54,"v":9},{"s":"TECN-F8","f":0.56,"v":10},{"s":"TECN-F8","f":0.58,"v":12},{"s":"TECN-F8","f":0.6,"v":12},{"s":"TECN-F8","f":0.62,"v":10},{"s":"TECN-F8","f":0.64,"v":8},{"s":"TECN-F8","f":0.66,"v":5},{"s":"TECN-F8","f":0.68,"v":3.2},{"s":"TECN-F8","f":0.7,"v":2.2},{"s":"TECN-F8","f":0.72,"v":1.6},{"s":"TECN-F8","f":0.74,"v":1.2},{"s":"TECN-F8","f":0.76,"v":1},{"s":"TECN-F8","f":0.78,"v":0.9},{"s":"TECN-F8","f":0.8,"v":0.8},{"s":"TECN-F8","f":0.82,"v":0.7},{"s":"TECN-F8","f":0.84,"v":0.65},{"s":"TECN-F8","f":0.86,"v":0.55},{"s":"TECN-F8","f":0.88,"v":0.5},{"s":"TECN-F8","f":0.9,"v":0.5},{"s":"TECN-F8","f":0.92,"v":0.45},{"s":"TECN-F8","f":0.94,"v":0.4},{"s":"TECN-F8","f":0.96,"v":0.42},{"s":"TECN-F8","f":0.98,"v":0.38},{"s":"TECN-F8","f":1,"v":0.35},
{"s":"UOU","f":0.001,"v":500},{"s":"UOU","f":0.005,"v":300},{"s":"UOU","f":0.01,"v":180},{"s":"UOU","f":0.015,"v":150},{"s":"UOU","f":0.02,"v":200},{"s":"UOU","f":0.025,"v":2000},{"s":"UOU","f":0.028,"v":100000},{"s":"UOU","f":0.031,"v":100000},{"s":"UOU","f":0.034,"v":10000},{"s":"UOU","f":0.038,"v":200},{"s":"UOU","f":0.042,"v":20},{"s":"UOU","f":0.05,"v":6},{"s":"UOU","f":0.06,"v":3.5},{"s":"UOU","f":0.067,"v":2.9},{"s":"UOU","f":0.07,"v":2.5},{"s":"UOU","f":0.08,"v":1.5},{"s":"UOU","f":0.09,"v":1.3},{"s":"UOU","f":0.1,"v":1.2},{"s":"UOU","f":0.11,"v":1},{"s":"UOU","f":0.12,"v":0.9},{"s":"UOU","f":0.13,"v":0.8},{"s":"UOU","f":0.14,"v":0.75},{"s":"UOU","f":0.15,"v":0.65},{"s":"UOU","f":0.16,"v":0.7},{"s":"UOU","f":0.17,"v":0.6},{"s":"UOU","f":0.18,"v":0.55},{"s":"UOU","f":0.19,"v":0.55},{"s":"UOU","f":0.2,"v":0.6},{"s":"UOU","f":0.21,"v":0.55},{"s":"UOU","f":0.22,"v":0.65},{"s":"UOU","f":0.23,"v":0.6},{"s":"UOU","f":0.24,"v":0.8},{"s":"UOU","f":0.25,"v":1},{"s":"UOU","f":0.26,"v":1.5},{"s":"UOU","f":0.27,"v":2},{"s":"UOU","f":0.28,"v":2.5},{"s":"UOU","f":0.29,"v":3},{"s":"UOU","f":0.3,"v":4},{"s":"UOU","f":0.31,"v":6},{"s":"UOU","f":0.32,"v":10},{"s":"UOU","f":0.33,"v":35},{"s":"UOU","f":0.336,"v":80},{"s":"UOU","f":0.343,"v":300},{"s":"UOU","f":0.35,"v":80},{"s":"UOU","f":0.362,"v":28},{"s":"UOU","f":0.375,"v":14},{"s":"UOU","f":0.39,"v":10},{"s":"UOU","f":0.4,"v":8},{"s":"UOU","f":0.414,"v":6},{"s":"UOU","f":0.43,"v":5.5},{"s":"UOU","f":0.447,"v":4.5},{"s":"UOU","f":0.46,"v":4.5},{"s":"UOU","f":0.48,"v":4.5},{"s":"UOU","f":0.5,"v":5.5},{"s":"UOU","f":0.52,"v":6.5},{"s":"UOU","f":0.54,"v":8},{"s":"UOU","f":0.56,"v":9},{"s":"UOU","f":0.58,"v":10},{"s":"UOU","f":0.6,"v":10},{"s":"UOU","f":0.62,"v":9},{"s":"UOU","f":0.64,"v":7.5},{"s":"UOU","f":0.66,"v":5},{"s":"UOU","f":0.68,"v":3.5},{"s":"UOU","f":0.7,"v":2.5},{"s":"UOU","f":0.72,"v":1.8},{"s":"UOU","f":0.74,"v":1.3},{"s":"UOU","f":0.76,"v":1.1},{"s":"UOU","f":0.78,"v":0.9},{"s":"UOU","f":0.8,"v":0.8},{"s":"UOU","f":0.82,"v":0.7},{"s":"UOU","f":0.84,"v":0.6},{"s":"UOU","f":0.86,"v":0.5},{"s":"UOU","f":0.88,"v":0.5},{"s":"UOU","f":0.9,"v":0.45},{"s":"UOU","f":0.92,"v":0.4},{"s":"UOU","f":0.94,"v":0.35},{"s":"UOU","f":0.96,"v":0.38},{"s":"UOU","f":0.98,"v":0.35},{"s":"UOU","f":1,"v":0.33},
{"s":"UPC","f":0.001,"v":200},{"s":"UPC","f":0.005,"v":100},{"s":"UPC","f":0.01,"v":60},{"s":"UPC","f":0.015,"v":50},{"s":"UPC","f":0.02,"v":70},{"s":"UPC","f":0.025,"v":300},{"s":"UPC","f":0.03,"v":5000},{"s":"UPC","f":0.035,"v":500},{"s":"UPC","f":0.04,"v":30},{"s":"UPC","f":0.045,"v":5},{"s":"UPC","f":0.05,"v":2},{"s":"UPC","f":0.06,"v":1},{"s":"UPC","f":0.07,"v":0.6},{"s":"UPC","f":0.08,"v":0.4},{"s":"UPC","f":0.09,"v":0.25},{"s":"UPC","f":0.1,"v":0.14},{"s":"UPC","f":0.11,"v":0.1},{"s":"UPC","f":0.115,"v":0.075},{"s":"UPC","f":0.12,"v":0.07},{"s":"UPC","f":0.13,"v":0.05},{"s":"UPC","f":0.14,"v":0.035},{"s":"UPC","f":0.15,"v":0.045},{"s":"UPC","f":0.155,"v":0.05},{"s":"UPC","f":0.16,"v":0.1},{"s":"UPC","f":0.17,"v":0.15},{"s":"UPC","f":0.18,"v":0.2},{"s":"UPC","f":0.19,"v":0.27},{"s":"UPC","f":0.2,"v":0.45},{"s":"UPC","f":0.21,"v":0.7},{"s":"UPC","f":0.22,"v":1.2},{"s":"UPC","f":0.23,"v":1.9},{"s":"UPC","f":0.24,"v":1.7},{"s":"UPC","f":0.25,"v":3},{"s":"UPC","f":0.26,"v":3.5},{"s":"UPC","f":0.27,"v":6},{"s":"UPC","f":0.28,"v":8},{"s":"UPC","f":0.29,"v":10},{"s":"UPC","f":0.3,"v":15},{"s":"UPC","f":0.31,"v":25},{"s":"UPC","f":0.32,"v":45},{"s":"UPC","f":0.325,"v":60},{"s":"UPC","f":0.33,"v":100},{"s":"UPC","f":0.335,"v":200},{"s":"UPC","f":0.34,"v":500},{"s":"UPC","f":0.345,"v":900},{"s":"UPC","f":0.352,"v":2500},{"s":"UPC","f":0.357,"v":1200},{"s":"UPC","f":0.362,"v":450},{"s":"UPC","f":0.37,"v":150},{"s":"UPC","f":0.375,"v":90},{"s":"UPC","f":0.383,"v":50},{"s":"UPC","f":0.398,"v":40},{"s":"UPC","f":0.414,"v":22},{"s":"UPC","f":0.43,"v":14},{"s":"UPC","f":0.445,"v":9},{"s":"UPC","f":0.46,"v":6},{"s":"UPC","f":0.48,"v":4.5},{"s":"UPC","f":0.5,"v":3.5},{"s":"UPC","f":0.53,"v":1.8},{"s":"UPC","f":0.56,"v":1.6},{"s":"UPC","f":0.6,"v":2.2},{"s":"UPC","f":0.62,"v":1.8},{"s":"UPC","f":0.64,"v":1.5},{"s":"UPC","f":0.66,"v":1.3},{"s":"UPC","f":0.69,"v":1.1},{"s":"UPC","f":0.73,"v":0.9},{"s":"UPC","f":0.76,"v":0.7},{"s":"UPC","f":0.8,"v":0.6},{"s":"UPC","f":0.84,"v":0.5},{"s":"UPC","f":0.88,"v":0.45},{"s":"UPC","f":0.92,"v":0.4},{"s":"UPC","f":0.96,"v":0.38},{"s":"UPC","f":1,"v":0.35},
{"s":"UTOKYO","f":0.001,"v":300},{"s":"UTOKYO","f":0.005,"v":200},{"s":"UTOKYO","f":0.01,"v":80},{"s":"UTOKYO","f":0.015,"v":60},{"s":"UTOKYO","f":0.02,"v":80},{"s":"UTOKYO","f":0.025,"v":300},{"s":"UTOKYO","f":0.03,"v":3000},{"s":"UTOKYO","f":0.035,"v":300},{"s":"UTOKYO","f":0.04,"v":60},{"s":"UTOKYO","f":0.05,"v":30},{"s":"UTOKYO","f":0.06,"v":25},{"s":"UTOKYO","f":0.07,"v":22},{"s":"UTOKYO","f":0.08,"v":20},{"s":"UTOKYO","f":0.09,"v":22},{"s":"UTOKYO","f":0.1,"v":23},{"s":"UTOKYO","f":0.11,"v":20},{"s":"UTOKYO","f":0.12,"v":18},{"s":"UTOKYO","f":0.13,"v":15},{"s":"UTOKYO","f":0.14,"v":16},{"s":"UTOKYO","f":0.15,"v":14},{"s":"UTOKYO","f":0.16,"v":18},{"s":"UTOKYO","f":0.17,"v":20},{"s":"UTOKYO","f":0.18,"v":25},{"s":"UTOKYO","f":0.19,"v":28},{"s":"UTOKYO","f":0.2,"v":25},{"s":"UTOKYO","f":0.21,"v":30},{"s":"UTOKYO","f":0.22,"v":28},{"s":"UTOKYO","f":0.23,"v":35},{"s":"UTOKYO","f":0.24,"v":40},{"s":"UTOKYO","f":0.25,"v":45},{"s":"UTOKYO","f":0.26,"v":52},{"s":"UTOKYO","f":0.27,"v":100},{"s":"UTOKYO","f":0.28,"v":240},{"s":"UTOKYO","f":0.29,"v":400},{"s":"UTOKYO","f":0.3,"v":850},{"s":"UTOKYO","f":0.305,"v":3100},{"s":"UTOKYO","f":0.31,"v":12000},{"s":"UTOKYO","f":0.315,"v":80000},{"s":"UTOKYO","f":0.319,"v":400000},{"s":"UTOKYO","f":0.322,"v":650000},{"s":"UTOKYO","f":0.325,"v":400000},{"s":"UTOKYO","f":0.33,"v":60000},{"s":"UTOKYO","f":0.335,"v":15000},{"s":"UTOKYO","f":0.34,"v":5000},{"s":"UTOKYO","f":0.345,"v":2500},{"s":"UTOKYO","f":0.35,"v":1500},{"s":"UTOKYO","f":0.36,"v":500},{"s":"UTOKYO","f":0.37,"v":360},{"s":"UTOKYO","f":0.38,"v":220},{"s":"UTOKYO","f":0.385,"v":160},{"s":"UTOKYO","f":0.39,"v":150},{"s":"UTOKYO","f":0.4,"v":140},{"s":"UTOKYO","f":0.41,"v":150},{"s":"UTOKYO","f":0.42,"v":160},{"s":"UTOKYO","f":0.43,"v":120},{"s":"UTOKYO","f":0.44,"v":90},{"s":"UTOKYO","f":0.45,"v":80},{"s":"UTOKYO","f":0.46,"v":70},{"s":"UTOKYO","f":0.47,"v":60},{"s":"UTOKYO","f":0.48,"v":75},{"s":"UTOKYO","f":0.49,"v":65},{"s":"UTOKYO","f":0.5,"v":55},{"s":"UTOKYO","f":0.51,"v":70},{"s":"UTOKYO","f":0.52,"v":60},{"s":"UTOKYO","f":0.53,"v":50},{"s":"UTOKYO","f":0.54,"v":65},{"s":"UTOKYO","f":0.55,"v":55},{"s":"UTOKYO","f":0.56,"v":70},{"s":"UTOKYO","f":0.57,"v":50},{"s":"UTOKYO","f":0.58,"v":60},{"s":"UTOKYO","f":0.59,"v":55},{"s":"UTOKYO","f":0.6,"v":65},{"s":"UTOKYO","f":0.61,"v":70},{"s":"UTOKYO","f":0.62,"v":50},{"s":"UTOKYO","f":0.63,"v":60},{"s":"UTOKYO","f":0.64,"v":55},{"s":"UTOKYO","f":0.65,"v":65},{"s":"UTOKYO","f":0.66,"v":50},{"s":"UTOKYO","f":0.67,"v":60},{"s":"UTOKYO","f":0.68,"v":45},{"s":"UTOKYO","f":0.69,"v":55},{"s":"UTOKYO","f":0.7,"v":60},{"s":"UTOKYO","f":0.72,"v":50},{"s":"UTOKYO","f":0.74,"v":55},{"s":"UTOKYO","f":0.76,"v":45},{"s":"UTOKYO","f":0.78,"v":55},{"s":"UTOKYO","f":0.8,"v":50},{"s":"UTOKYO","f":0.82,"v":45},{"s":"UTOKYO","f":0.84,"v":40},{"s":"UTOKYO","f":0.86,"v":50},{"s":"UTOKYO","f":0.88,"v":40},{"s":"UTOKYO","f":0.9,"v":45},{"s":"UTOKYO","f":0.92,"v":50},{"s":"UTOKYO","f":0.94,"v":40},{"s":"UTOKYO","f":0.96,"v":45},{"s":"UTOKYO","f":0.98,"v":40},{"s":"UTOKYO","f":1,"v":55},
{"s":"WAVEC-FAST","f":0.001,"v":200000},{"s":"WAVEC-FAST","f":0.004,"v":500},{"s":"WAVEC-FAST","f":0.01,"v":200},{"s":"WAVEC-FAST","f":0.015,"v":150},{"s":"WAVEC-FAST","f":0.02,"v":300},{"s":"WAVEC-FAST","f":0.025,"v":3000},{"s":"WAVEC-FAST","f":0.028,"v":70000},{"s":"WAVEC-FAST","f":0.031,"v":70000},{"s":"WAVEC-FAST","f":0.034,"v":5000},{"s":"WAVEC-FAST","f":0.038,"v":200},{"s":"WAVEC-FAST","f":0.042,"v":30},{"s":"WAVEC-FAST","f":0.05,"v":8},{"s":"WAVEC-FAST","f":0.06,"v":3},{"s":"WAVEC-FAST","f":0.07,"v":2.2},{"s":"WAVEC-FAST","f":0.08,"v":1.8},{"s":"WAVEC-FAST","f":0.09,"v":1.6},{"s":"WAVEC-FAST","f":0.1,"v":1.7},{"s":"WAVEC-FAST","f":0.11,"v":1.4},{"s":"WAVEC-FAST","f":0.12,"v":1.2},{"s":"WAVEC-FAST","f":0.13,"v":1},{"s":"WAVEC-FAST","f":0.14,"v":0.9},{"s":"WAVEC-FAST","f":0.15,"v":0.8},{"s":"WAVEC-FAST","f":0.16,"v":0.75},{"s":"WAVEC-FAST","f":0.17,"v":0.8},{"s":"WAVEC-FAST","f":0.18,"v":0.7},{"s":"WAVEC-FAST","f":0.19,"v":0.75},{"s":"WAVEC-FAST","f":0.2,"v":0.8},{"s":"WAVEC-FAST","f":0.21,"v":0.85},{"s":"WAVEC-FAST","f":0.22,"v":0.9},{"s":"WAVEC-FAST","f":0.23,"v":1.1},{"s":"WAVEC-FAST","f":0.24,"v":1.3},{"s":"WAVEC-FAST","f":0.25,"v":1.6},{"s":"WAVEC-FAST","f":0.26,"v":2},{"s":"WAVEC-FAST","f":0.27,"v":2.5},{"s":"WAVEC-FAST","f":0.28,"v":4},{"s":"WAVEC-FAST","f":0.29,"v":7},{"s":"WAVEC-FAST","f":0.3,"v":12},{"s":"WAVEC-FAST","f":0.31,"v":40},{"s":"WAVEC-FAST","f":0.32,"v":150},{"s":"WAVEC-FAST","f":0.33,"v":500},{"s":"WAVEC-FAST","f":0.338,"v":1000},{"s":"WAVEC-FAST","f":0.344,"v":1500},{"s":"WAVEC-FAST","f":0.35,"v":300},{"s":"WAVEC-FAST","f":0.355,"v":80},{"s":"WAVEC-FAST","f":0.36,"v":30},{"s":"WAVEC-FAST","f":0.37,"v":15},{"s":"WAVEC-FAST","f":0.38,"v":10},{"s":"WAVEC-FAST","f":0.39,"v":8},{"s":"WAVEC-FAST","f":0.4,"v":7},{"s":"WAVEC-FAST","f":0.42,"v":6},{"s":"WAVEC-FAST","f":0.44,"v":5.5},{"s":"WAVEC-FAST","f":0.46,"v":5},{"s":"WAVEC-FAST","f":0.48,"v":5},{"s":"WAVEC-FAST","f":0.5,"v":6},{"s":"WAVEC-FAST","f":0.52,"v":8},{"s":"WAVEC-FAST","f":0.54,"v":9.5},{"s":"WAVEC-FAST","f":0.56,"v":11},{"s":"WAVEC-FAST","f":0.58,"v":12},{"s":"WAVEC-FAST","f":0.6,"v":13},{"s":"WAVEC-FAST","f":0.62,"v":10},{"s":"WAVEC-FAST","f":0.64,"v":8},{"s":"WAVEC-FAST","f":0.66,"v":5.5},{"s":"WAVEC-FAST","f":0.68,"v":3.5},{"s":"WAVEC-FAST","f":0.7,"v":2.5},{"s":"WAVEC-FAST","f":0.72,"v":1.8},{"s":"WAVEC-FAST","f":0.74,"v":1.4},{"s":"WAVEC-FAST","f":0.76,"v":1.2},{"s":"WAVEC-FAST","f":0.78,"v":1},{"s":"WAVEC-FAST","f":0.8,"v":0.9},{"s":"WAVEC-FAST","f":0.82,"v":0.8},{"s":"WAVEC-FAST","f":0.84,"v":0.7},{"s":"WAVEC-FAST","f":0.86,"v":0.6},{"s":"WAVEC-FAST","f":0.88,"v":0.55},{"s":"WAVEC-FAST","f":0.9,"v":0.5},{"s":"WAVEC-FAST","f":0.92,"v":0.48},{"s":"WAVEC-FAST","f":0.94,"v":0.45},{"s":"WAVEC-FAST","f":0.96,"v":0.42},{"s":"WAVEC-FAST","f":0.98,"v":0.45},{"s":"WAVEC-FAST","f":1,"v":0.4},
{"s":"WAVEC-FF2W","f":0.001,"v":1000},{"s":"WAVEC-FF2W","f":0.01,"v":180},{"s":"WAVEC-FF2W","f":0.02,"v":250},{"s":"WAVEC-FF2W","f":0.025,"v":2000},{"s":"WAVEC-FF2W","f":0.03,"v":50000},{"s":"WAVEC-FF2W","f":0.034,"v":4000},{"s":"WAVEC-FF2W","f":0.038,"v":150},{"s":"WAVEC-FF2W","f":0.042,"v":25},{"s":"WAVEC-FF2W","f":0.05,"v":7},{"s":"WAVEC-FF2W","f":0.06,"v":2.8},{"s":"WAVEC-FF2W","f":0.08,"v":1.6},{"s":"WAVEC-FF2W","f":0.1,"v":1.5},{"s":"WAVEC-FF2W","f":0.12,"v":1.1},{"s":"WAVEC-FF2W","f":0.14,"v":0.85},{"s":"WAVEC-FF2W","f":0.16,"v":0.7},{"s":"WAVEC-FF2W","f":0.18,"v":0.65},{"s":"WAVEC-FF2W","f":0.2,"v":0.75},{"s":"WAVEC-FF2W","f":0.22,"v":0.85},{"s":"WAVEC-FF2W","f":0.24,"v":1.2},{"s":"WAVEC-FF2W","f":0.26,"v":1.8},{"s":"WAVEC-FF2W","f":0.28,"v":3.5},{"s":"WAVEC-FF2W","f":0.3,"v":10},{"s":"WAVEC-FF2W","f":0.31,"v":35},{"s":"WAVEC-FF2W","f":0.32,"v":120},{"s":"WAVEC-FF2W","f":0.33,"v":400},{"s":"WAVEC-FF2W","f":0.34,"v":1200},{"s":"WAVEC-FF2W","f":0.35,"v":250},{"s":"WAVEC-FF2W","f":0.36,"v":25},{"s":"WAVEC-FF2W","f":0.38,"v":9},{"s":"WAVEC-FF2W","f":0.4,"v":6.5},{"s":"WAVEC-FF2W","f":0.42,"v":5.5},{"s":"WAVEC-FF2W","f":0.44,"v":5},{"s":"WAVEC-FF2W","f":0.46,"v":4.8},{"s":"WAVEC-FF2W","f":0.48,"v":4.8},{"s":"WAVEC-FF2W","f":0.5,"v":5.5},{"s":"WAVEC-FF2W","f":0.52,"v":7.5},{"s":"WAVEC-FF2W","f":0.54,"v":9},{"s":"WAVEC-FF2W","f":0.56,"v":10},{"s":"WAVEC-FF2W","f":0.58,"v":11},{"s":"WAVEC-FF2W","f":0.6,"v":12},{"s":"WAVEC-FF2W","f":0.62,"v":9.5},{"s":"WAVEC-FF2W","f":0.64,"v":7.5},{"s":"WAVEC-FF2W","f":0.66,"v":5},{"s":"WAVEC-FF2W","f":0.68,"v":3.2},{"s":"WAVEC-FF2W","f":0.7,"v":2.3},{"s":"WAVEC-FF2W","f":0.72,"v":1.7},{"s":"WAVEC-FF2W","f":0.74,"v":1.3},{"s":"WAVEC-FF2W","f":0.76,"v":1.1},{"s":"WAVEC-FF2W","f":0.78,"v":0.95},{"s":"WAVEC-FF2W","f":0.8,"v":0.85},{"s":"WAVEC-FF2W","f":0.84,"v":0.65},{"s":"WAVEC-FF2W","f":0.88,"v":0.5},{"s":"WAVEC-FF2W","f":0.92,"v":0.45},{"s":"WAVEC-FF2W","f":0.96,"v":0.4},{"s":"WAVEC-FF2W","f":1,"v":0.38},
{"s":"4SUBSEA","f":0.001,"v":150000},{"s":"4SUBSEA","f":0.004,"v":1000},{"s":"4SUBSEA","f":0.008,"v":800},{"s":"4SUBSEA","f":0.011,"v":3000},{"s":"4SUBSEA","f":0.014,"v":4000},{"s":"4SUBSEA","f":0.017,"v":2000},{"s":"4SUBSEA","f":0.02,"v":300},{"s":"4SUBSEA","f":0.025,"v":800},{"s":"4SUBSEA","f":0.028,"v":20000},{"s":"4SUBSEA","f":0.031,"v":25000},{"s":"4SUBSEA","f":0.034,"v":5000},{"s":"4SUBSEA","f":0.038,"v":200},{"s":"4SUBSEA","f":0.042,"v":30},{"s":"4SUBSEA","f":0.05,"v":2},{"s":"4SUBSEA","f":0.06,"v":1.2},{"s":"4SUBSEA","f":0.07,"v":1.1},{"s":"4SUBSEA","f":0.08,"v":1},{"s":"4SUBSEA","f":0.09,"v":1.1},{"s":"4SUBSEA","f":0.1,"v":1},{"s":"4SUBSEA","f":0.11,"v":0.9},{"s":"4SUBSEA","f":0.12,"v":1.1},{"s":"4SUBSEA","f":0.13,"v":1.2},{"s":"4SUBSEA","f":0.14,"v":0.9},{"s":"4SUBSEA","f":0.15,"v":1},{"s":"4SUBSEA","f":0.16,"v":0.8},{"s":"4SUBSEA","f":0.17,"v":0.9},{"s":"4SUBSEA","f":0.18,"v":0.65},{"s":"4SUBSEA","f":0.19,"v":0.8},{"s":"4SUBSEA","f":0.2,"v":0.9},{"s":"4SUBSEA","f":0.21,"v":0.8},{"s":"4SUBSEA","f":0.22,"v":1},{"s":"4SUBSEA","f":0.23,"v":1.5},{"s":"4SUBSEA","f":0.24,"v":1.7},{"s":"4SUBSEA","f":0.25,"v":1.8},{"s":"4SUBSEA","f":0.26,"v":2.3},{"s":"4SUBSEA","f":0.27,"v":2},{"s":"4SUBSEA","f":0.28,"v":4},{"s":"4SUBSEA","f":0.285,"v":5},{"s":"4SUBSEA","f":0.29,"v":7},{"s":"4SUBSEA","f":0.3,"v":15},{"s":"4SUBSEA","f":0.305,"v":25},{"s":"4SUBSEA","f":0.31,"v":100},{"s":"4SUBSEA","f":0.314,"v":300},{"s":"4SUBSEA","f":0.32,"v":600},{"s":"4SUBSEA","f":0.326,"v":800},{"s":"4SUBSEA","f":0.333,"v":300},{"s":"4SUBSEA","f":0.336,"v":65},{"s":"4SUBSEA","f":0.34,"v":50},{"s":"4SUBSEA","f":0.35,"v":20},{"s":"4SUBSEA","f":0.357,"v":10},{"s":"4SUBSEA","f":0.365,"v":6},{"s":"4SUBSEA","f":0.38,"v":6.5},{"s":"4SUBSEA","f":0.39,"v":6},{"s":"4SUBSEA","f":0.4,"v":5},{"s":"4SUBSEA","f":0.414,"v":5},{"s":"4SUBSEA","f":0.43,"v":4.5},{"s":"4SUBSEA","f":0.44,"v":4.5},{"s":"4SUBSEA","f":0.46,"v":3.8},{"s":"4SUBSEA","f":0.48,"v":4.2},{"s":"4SUBSEA","f":0.5,"v":6.5},{"s":"4SUBSEA","f":0.52,"v":7.5},{"s":"4SUBSEA","f":0.54,"v":13},{"s":"4SUBSEA","f":0.56,"v":14},{"s":"4SUBSEA","f":0.58,"v":16},{"s":"4SUBSEA","f":0.595,"v":20},{"s":"4SUBSEA","f":0.61,"v":17},{"s":"4SUBSEA","f":0.62,"v":15},{"s":"4SUBSEA","f":0.64,"v":10},{"s":"4SUBSEA","f":0.66,"v":6},{"s":"4SUBSEA","f":0.68,"v":3.5},{"s":"4SUBSEA","f":0.69,"v":2.2},{"s":"4SUBSEA","f":0.71,"v":2.2},{"s":"4SUBSEA","f":0.73,"v":1.5},{"s":"4SUBSEA","f":0.75,"v":1.7},{"s":"4SUBSEA","f":0.77,"v":1.2},{"s":"4SUBSEA","f":0.79,"v":0.9},{"s":"4SUBSEA","f":0.81,"v":1},{"s":"4SUBSEA","f":0.83,"v":0.6},{"s":"4SUBSEA","f":0.85,"v":0.45},{"s":"4SUBSEA","f":0.87,"v":0.55},{"s":"4SUBSEA","f":0.89,"v":0.45},{"s":"4SUBSEA","f":0.91,"v":0.5},{"s":"4SUBSEA","f":0.93,"v":0.5},{"s":"4SUBSEA","f":0.95,"v":0.4},{"s":"4SUBSEA","f":0.97,"v":0.4},{"s":"4SUBSEA","f":0.99,"v":0.45},{"s":"4SUBSEA","f":1,"v":0.45},
{"s":"EXPERIMENT","f":0.0005,"v":1000000},{"s":"EXPERIMENT","f":0.002,"v":5000},{"s":"EXPERIMENT","f":0.005,"v":500},{"s":"EXPERIMENT","f":0.008,"v":330},{"s":"EXPERIMENT","f":0.012,"v":250},{"s":"EXPERIMENT","f":0.016,"v":300},{"s":"EXPERIMENT","f":0.02,"v":400},{"s":"EXPERIMENT","f":0.024,"v":800},{"s":"EXPERIMENT","f":0.027,"v":2500},{"s":"EXPERIMENT","f":0.03,"v":12000},{"s":"EXPERIMENT","f":0.032,"v":15000},{"s":"EXPERIMENT","f":0.034,"v":3000},{"s":"EXPERIMENT","f":0.037,"v":200},{"s":"EXPERIMENT","f":0.04,"v":80},{"s":"EXPERIMENT","f":0.045,"v":200},{"s":"EXPERIMENT","f":0.05,"v":180},{"s":"EXPERIMENT","f":0.055,"v":130},{"s":"EXPERIMENT","f":0.06,"v":160},{"s":"EXPERIMENT","f":0.065,"v":220},{"s":"EXPERIMENT","f":0.07,"v":170},{"s":"EXPERIMENT","f":0.075,"v":100},{"s":"EXPERIMENT","f":0.08,"v":90},{"s":"EXPERIMENT","f":0.085,"v":50},{"s":"EXPERIMENT","f":0.09,"v":38},{"s":"EXPERIMENT","f":0.095,"v":30},{"s":"EXPERIMENT","f":0.1,"v":25},{"s":"EXPERIMENT","f":0.105,"v":35},{"s":"EXPERIMENT","f":0.11,"v":30},{"s":"EXPERIMENT","f":0.115,"v":27},{"s":"EXPERIMENT","f":0.12,"v":45},{"s":"EXPERIMENT","f":0.125,"v":35},{"s":"EXPERIMENT","f":0.13,"v":40},{"s":"EXPERIMENT","f":0.135,"v":50},{"s":"EXPERIMENT","f":0.14,"v":45},{"s":"EXPERIMENT","f":0.145,"v":55},{"s":"EXPERIMENT","f":0.15,"v":50},{"s":"EXPERIMENT","f":0.155,"v":65},{"s":"EXPERIMENT","f":0.16,"v":60},{"s":"EXPERIMENT","f":0.165,"v":80},{"s":"EXPERIMENT","f":0.17,"v":75},{"s":"EXPERIMENT","f":0.175,"v":100},{"s":"EXPERIMENT","f":0.18,"v":110},{"s":"EXPERIMENT","f":0.185,"v":150},{"s":"EXPERIMENT","f":0.19,"v":200},{"s":"EXPERIMENT","f":0.195,"v":350},{"s":"EXPERIMENT","f":0.199,"v":2000},{"s":"EXPERIMENT","f":0.201,"v":12000},{"s":"EXPERIMENT","f":0.203,"v":2000},{"s":"EXPERIMENT","f":0.206,"v":400},{"s":"EXPERIMENT","f":0.21,"v":260},{"s":"EXPERIMENT","f":0.215,"v":280},{"s":"EXPERIMENT","f":0.22,"v":220},{"s":"EXPERIMENT","f":0.225,"v":160},{"s":"EXPERIMENT","f":0.23,"v":140},{"s":"EXPERIMENT","f":0.234,"v":80},{"s":"EXPERIMENT","f":0.24,"v":140},{"s":"EXPERIMENT","f":0.247,"v":130},{"s":"EXPERIMENT","f":0.255,"v":110},{"s":"EXPERIMENT","f":0.265,"v":90},{"s":"EXPERIMENT","f":0.27,"v":150},{"s":"EXPERIMENT","f":0.276,"v":190},{"s":"EXPERIMENT","f":0.283,"v":150},{"s":"EXPERIMENT","f":0.29,"v":240},{"s":"EXPERIMENT","f":0.296,"v":100},{"s":"EXPERIMENT","f":0.302,"v":500},{"s":"EXPERIMENT","f":0.307,"v":900},{"s":"EXPERIMENT","f":0.311,"v":1200},{"s":"EXPERIMENT","f":0.316,"v":1800},{"s":"EXPERIMENT","f":0.321,"v":2200},{"s":"EXPERIMENT","f":0.326,"v":3200},{"s":"EXPERIMENT","f":0.331,"v":1900},{"s":"EXPERIMENT","f":0.336,"v":1300},{"s":"EXPERIMENT","f":0.34,"v":1000},{"s":"EXPERIMENT","f":0.344,"v":800},{"s":"EXPERIMENT","f":0.35,"v":500},{"s":"EXPERIMENT","f":0.354,"v":360},{"s":"EXPERIMENT","f":0.36,"v":300},{"s":"EXPERIMENT","f":0.365,"v":250},{"s":"EXPERIMENT","f":0.369,"v":190},{"s":"EXPERIMENT","f":0.374,"v":280},{"s":"EXPERIMENT","f":0.378,"v":300},{"s":"EXPERIMENT","f":0.385,"v":400},{"s":"EXPERIMENT","f":0.39,"v":420},{"s":"EXPERIMENT","f":0.394,"v":450},{"s":"EXPERIMENT","f":0.4,"v":650},{"s":"EXPERIMENT","f":0.402,"v":5000},{"s":"EXPERIMENT","f":0.404,"v":35000},{"s":"EXPERIMENT","f":0.406,"v":5000},{"s":"EXPERIMENT","f":0.408,"v":700},{"s":"EXPERIMENT","f":0.412,"v":360},{"s":"EXPERIMENT","f":0.42,"v":300},{"s":"EXPERIMENT","f":0.425,"v":250},{"s":"EXPERIMENT","f":0.431,"v":220},{"s":"EXPERIMENT","f":0.44,"v":280},{"s":"EXPERIMENT","f":0.447,"v":300},{"s":"EXPERIMENT","f":0.455,"v":220},{"s":"EXPERIMENT","f":0.46,"v":190},{"s":"EXPERIMENT","f":0.465,"v":250},{"s":"EXPERIMENT","f":0.47,"v":220},{"s":"EXPERIMENT","f":0.475,"v":300},{"s":"EXPERIMENT","f":0.48,"v":280},{"s":"EXPERIMENT","f":0.485,"v":330},{"s":"EXPERIMENT","f":0.49,"v":300},{"s":"EXPERIMENT","f":0.495,"v":350},{"s":"EXPERIMENT","f":0.5,"v":400},{"s":"EXPERIMENT","f":0.505,"v":450},{"s":"EXPERIMENT","f":0.51,"v":900},{"s":"EXPERIMENT","f":0.515,"v":1200},{"s":"EXPERIMENT","f":0.52,"v":1500},{"s":"EXPERIMENT","f":0.525,"v":1800},{"s":"EXPERIMENT","f":0.53,"v":2200},{"s":"EXPERIMENT","f":0.535,"v":2000},{"s":"EXPERIMENT","f":0.54,"v":2800},{"s":"EXPERIMENT","f":0.545,"v":2500},{"s":"EXPERIMENT","f":0.55,"v":2600},{"s":"EXPERIMENT","f":0.555,"v":2000},{"s":"EXPERIMENT","f":0.56,"v":1800},{"s":"EXPERIMENT","f":0.565,"v":1900},{"s":"EXPERIMENT","f":0.57,"v":1300},{"s":"EXPERIMENT","f":0.575,"v":700},{"s":"EXPERIMENT","f":0.58,"v":1500},{"s":"EXPERIMENT","f":0.585,"v":2000},{"s":"EXPERIMENT","f":0.59,"v":3000},{"s":"EXPERIMENT","f":0.595,"v":4000},{"s":"EXPERIMENT","f":0.6,"v":6000},{"s":"EXPERIMENT","f":0.603,"v":50000},{"s":"EXPERIMENT","f":0.605,"v":380000},{"s":"EXPERIMENT","f":0.607,"v":50000},{"s":"EXPERIMENT","f":0.61,"v":5000},{"s":"EXPERIMENT","f":0.615,"v":2000},{"s":"EXPERIMENT","f":0.62,"v":2500},{"s":"EXPERIMENT","f":0.625,"v":2000},{"s":"EXPERIMENT","f":0.63,"v":1000},{"s":"EXPERIMENT","f":0.635,"v":1200},{"s":"EXPERIMENT","f":0.64,"v":900},{"s":"EXPERIMENT","f":0.645,"v":1100},{"s":"EXPERIMENT","f":0.65,"v":950},{"s":"EXPERIMENT","f":0.655,"v":1300},{"s":"EXPERIMENT","f":0.66,"v":1100},{"s":"EXPERIMENT","f":0.665,"v":700},{"s":"EXPERIMENT","f":0.67,"v":400},{"s":"EXPERIMENT","f":0.675,"v":500},{"s":"EXPERIMENT","f":0.68,"v":350},{"s":"EXPERIMENT","f":0.685,"v":300},{"s":"EXPERIMENT","f":0.69,"v":240},{"s":"EXPERIMENT","f":0.695,"v":250},{"s":"EXPERIMENT","f":0.7,"v":220},{"s":"EXPERIMENT","f":0.705,"v":230},{"s":"EXPERIMENT","f":0.71,"v":200},{"s":"EXPERIMENT","f":0.715,"v":260},{"s":"EXPERIMENT","f":0.72,"v":160},{"s":"EXPERIMENT","f":0.725,"v":180},{"s":"EXPERIMENT","f":0.73,"v":150},{"s":"EXPERIMENT","f":0.735,"v":200},{"s":"EXPERIMENT","f":0.74,"v":240},{"s":"EXPERIMENT","f":0.745,"v":180},{"s":"EXPERIMENT","f":0.75,"v":170},{"s":"EXPERIMENT","f":0.755,"v":210},{"s":"EXPERIMENT","f":0.76,"v":160},{"s":"EXPERIMENT","f":0.765,"v":190},{"s":"EXPERIMENT","f":0.77,"v":150},{"s":"EXPERIMENT","f":0.775,"v":230},{"s":"EXPERIMENT","f":0.78,"v":260},{"s":"EXPERIMENT","f":0.785,"v":200},{"s":"EXPERIMENT","f":0.79,"v":300},{"s":"EXPERIMENT","f":0.795,"v":320},{"s":"EXPERIMENT","f":0.8,"v":350},{"s":"EXPERIMENT","f":0.803,"v":600},{"s":"EXPERIMENT","f":0.806,"v":5300},{"s":"EXPERIMENT","f":0.808,"v":3000},{"s":"EXPERIMENT","f":0.81,"v":800},{"s":"EXPERIMENT","f":0.815,"v":500},{"s":"EXPERIMENT","f":0.82,"v":350},{"s":"EXPERIMENT","f":0.825,"v":280},{"s":"EXPERIMENT","f":0.83,"v":240},{"s":"EXPERIMENT","f":0.835,"v":300},{"s":"EXPERIMENT","f":0.84,"v":260},{"s":"EXPERIMENT","f":0.845,"v":280},{"s":"EXPERIMENT","f":0.85,"v":220},{"s":"EXPERIMENT","f":0.855,"v":240},{"s":"EXPERIMENT","f":0.86,"v":180},{"s":"EXPERIMENT","f":0.865,"v":200},{"s":"EXPERIMENT","f":0.87,"v":150},{"s":"EXPERIMENT","f":0.875,"v":170},{"s":"EXPERIMENT","f":0.88,"v":130},{"s":"EXPERIMENT","f":0.885,"v":150},{"s":"EXPERIMENT","f":0.89,"v":100},{"s":"EXPERIMENT","f":0.895,"v":110},{"s":"EXPERIMENT","f":0.9,"v":95},{"s":"EXPERIMENT","f":0.905,"v":120},{"s":"EXPERIMENT","f":0.91,"v":100},{"s":"EXPERIMENT","f":0.915,"v":85},{"s":"EXPERIMENT","f":0.92,"v":110},{"s":"EXPERIMENT","f":0.925,"v":90},{"s":"EXPERIMENT","f":0.93,"v":100},{"s":"EXPERIMENT","f":0.935,"v":85},{"s":"EXPERIMENT","f":0.94,"v":95},{"s":"EXPERIMENT","f":0.945,"v":70},{"s":"EXPERIMENT","f":0.95,"v":90},{"s":"EXPERIMENT","f":0.955,"v":75},{"s":"EXPERIMENT","f":0.96,"v":70},{"s":"EXPERIMENT","f":0.965,"v":80},{"s":"EXPERIMENT","f":0.97,"v":60},{"s":"EXPERIMENT","f":0.975,"v":70},{"s":"EXPERIMENT","f":0.98,"v":65},{"s":"EXPERIMENT","f":0.985,"v":80},{"s":"EXPERIMENT","f":0.99,"v":90},{"s":"EXPERIMENT","f":0.995,"v":100},{"s":"EXPERIMENT","f":1,"v":125}
]},
"encoding": {
  "x": {"field": "f", "type": "quantitative", "scale": {"domain": [0, 1], "nice": false, "zero": false},
    "axis": {"title": "Frequency (Hz)", "titleFontSize": 19, "titlePadding": 10, "values": [0,0.1,0.2,0.3,0.4,0.5,0.6,0.7,0.8,0.9,1], "format": "~g", "labelFontSize": 17.5, "labelFlush": false, "labelPadding": 13, "tickSize": -7, "grid": true, "gridColor": "#d4d4d4", "gridWidth": 1, "domainColor": "#262626"}},
  "y": {"field": "v", "type": "quantitative", "scale": {"type": "log", "domain": [0.01, 1000000], "nice": false},
    "axis": {"title": "YawBrFyp (kN²/Hz)", "titleFontSize": 19, "titlePadding": 8, "labelFont": "DejaVu Sans", "labelFontSize": 16, "labelFlush": false, "labelOverlap": false, "labelPadding": 10,
      "values": [0.01,0.02,0.03,0.04,0.05,0.06,0.07,0.08,0.09,0.1,0.2,0.3,0.4,0.5,0.6,0.7,0.8,0.9,1,2,3,4,5,6,7,8,9,10,20,30,40,50,60,70,80,90,100,200,300,400,500,600,700,800,900,1000,2000,3000,4000,5000,6000,7000,8000,9000,10000,20000,30000,40000,50000,60000,70000,80000,90000,100000,200000,300000,400000,500000,600000,700000,800000,900000,1000000],
      "labelExpr": "abs(log(datum.value)/LN10 - round(log(datum.value)/LN10)) < 0.001 ? ['10⁻²','10⁻¹','10⁰','10¹','10²','10³','10⁴','10⁵','10⁶'][round(log(datum.value)/LN10)+2] : ''",
      "grid": true,
      "gridColor": {"condition": {"test": "abs(log(datum.value)/LN10 - round(log(datum.value)/LN10)) < 0.001", "value": "#d0d0d0"}, "value": "#d8d8d8"},
      "gridDash": {"condition": {"test": "abs(log(datum.value)/LN10 - round(log(datum.value)/LN10)) < 0.001", "value": []}, "value": [1, 3]},
      "tickSize": -4, "domainColor": "#262626"}},
  "color": {"field": "s", "type": "nominal",
    "scale": {"domain": ["CENTEC","DNV-GL2","DTU-ME","DTU-PF","ECN-MARIN","IFE","IFPEN-PRI","NREL","POLIMI","SIEMENS-PLM","TECN-F8","UOU","UPC","UTOKYO","WAVEC-FAST","WAVEC-FF2W","4SUBSEA","EXPERIMENT"],
      "range": ["#999900","#D9930D","#FFA500","#F7A400","#FF80C4","#5CCCFF","#008A00","#0044FF","#00FFFF","#00F0F0","#FF00FF","#990099","#A80000","#FF88CC","#50C8FF","#888888","#FF0000","#000000"]},
    "legend": {"title": null, "orient": "none", "legendX": 829, "legendY": 63}},
  "strokeDash": {"field": "s", "type": "nominal",
    "scale": {"domain": ["CENTEC","DNV-GL2","DTU-ME","DTU-PF","ECN-MARIN","IFE","IFPEN-PRI","NREL","POLIMI","SIEMENS-PLM","TECN-F8","UOU","UPC","UTOKYO","WAVEC-FAST","WAVEC-FF2W","4SUBSEA","EXPERIMENT"],
      "range": [[1,0],[1,0],[6,4],[6,3,2,3],[1,0],[6,4],[1,0],[1,0],[1,0],[6,4],[1,0],[1,0],[6,4],[6,4],[1,0],[1,0],[1,0],[1,0]]},
    "legend": {"title": null, "orient": "none", "legendX": 829, "legendY": 63}}
},
"layer": [
  {"transform": [{"filter": "datum.s != 'EXPERIMENT'"}], "mark": {"type": "line", "strokeWidth": 2.5, "clip": true}},
  {"transform": [{"filter": "datum.s == 'EXPERIMENT'"}], "mark": {"type": "line", "strokeWidth": 4.2, "clip": true},
   "encoding": {
     "x": {"field": "f", "type": "quantitative", "scale": {"domain": [0, 1], "nice": false, "zero": false},
       "axis": {"orient": "top", "title": null, "labels": false, "grid": false, "values": [0,0.1,0.2,0.3,0.4,0.5,0.6,0.7,0.8,0.9,1], "tickSize": -7, "domainColor": "#262626"}},
     "y": {"field": "v", "type": "quantitative", "scale": {"type": "log", "domain": [0.01, 1000000], "nice": false},
       "axis": {"orient": "right", "title": null, "labels": false, "grid": false, "tickSize": -4, "domainColor": "#262626",
         "values": [0.01,0.02,0.03,0.04,0.05,0.06,0.07,0.08,0.09,0.1,0.2,0.3,0.4,0.5,0.6,0.7,0.8,0.9,1,2,3,4,5,6,7,8,9,10,20,30,40,50,60,70,80,90,100,200,300,400,500,600,700,800,900,1000,2000,3000,4000,5000,6000,7000,8000,9000,10000,20000,30000,40000,50000,60000,70000,80000,90000,100000,200000,300000,400000,500000,600000,700000,800000,900000,1000000]}}
   }}
],
"resolve": {"axis": {"x": "independent", "y": "independent"}}
}
